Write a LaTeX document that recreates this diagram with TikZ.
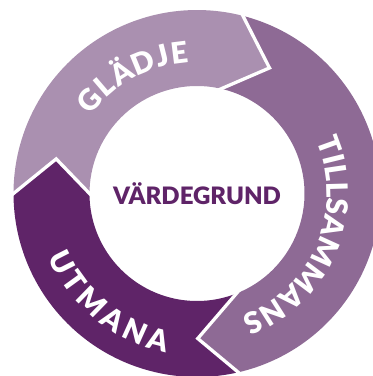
\documentclass[tikz,border=0pt]{standalone}
\usepackage{fontspec}
\setmainfont{Lato}
\newfontfamily\heavy{Lato Black}
\usetikzlibrary{decorations.text,calc}
\definecolor{glad}{HTML}{AA90B0}
\definecolor{till}{HTML}{8E6A95}
\definecolor{utm}{HTML}{5F2468}
\newcommand\ringfont{\heavy\fontsize{29.5pt}{30pt}\selectfont}
\begin{document}
\begin{tikzpicture}[x=1pt,y=1pt,
  sep/.style={draw=white, line width=3.3pt, line join=miter},
  ringtext/.style={decorate, decoration={text along path, text align=fit to path, text color=white, text={|\ringfont|#1}}}]
\useasboundingbox (0,0) rectangle (373,376);
\begin{scope}[shift={(197,182.5)}]
\def\Ro{183.5pt}\def\Ri{107.5pt}\def\Rm{145pt}
% chevron points
\coordinate (Aout) at (75.5:\Ro);
\coordinate (Atip) at (60:\Rm);
\coordinate (Ain)  at (77:\Ri);
\coordinate (Bout) at (-77:\Ro);
\coordinate (Btip) at (-89.7:\Rm);
\coordinate (Bin)  at (-68.5:\Ri);
\coordinate (Cout) at (180:\Ro);
\coordinate (Ctip) at (166.2:\Rm);
\coordinate (Cin)  at (180:\Ri);
% segments
\fill[glad] (Cout) arc[start angle=180, end angle=75.5, radius=\Ro] -- (Atip) -- (Ain)
  arc[start angle=77, end angle=180, radius=\Ri] -- (Ctip) -- cycle;
\fill[till] (Aout) arc[start angle=75.5, end angle=-77, radius=\Ro] -- (Btip) -- (Bin)
  arc[start angle=-68.5, end angle=77, radius=\Ri] -- (Atip) -- cycle;
\fill[utm] (Bout) arc[start angle=283, end angle=180, radius=\Ro] -- (Ctip) -- (Cin)
  arc[start angle=180, end angle=291.5, radius=\Ri] -- (Btip) -- cycle;
% separators
\draw[sep] ($(Atip)!1.1!(Aout)$) -- (Atip) -- ($(Atip)!1.2!(Ain)$);
\draw[sep] ($(Btip)!1.1!(Bout)$) -- (Btip) -- ($(Btip)!1.2!(Bin)$);
\draw[sep] ($(Ctip)!1.1!(Cout)$) -- (Ctip) -- ($(Ctip)!1.2!(Cin)$);
% ring labels
\path[ringtext=GLÄDJE] (143.7:131.3pt) arc[start angle=143.7, end angle=93.4, radius=131.3pt];
\path[ringtext=TILLSAMMANS] (23.8:130pt) arc[start angle=23.8, end angle=-67.8, radius=130pt];
\path[ringtext=UTMANA] (203.1:161.7pt) arc[start angle=203.1, end angle=258.9, radius=161.7pt];
% centre
\node[text=utm, font=\heavy\fontsize{24pt}{26pt}\selectfont] (vg) at (0,0) {VÄRDEGRUND};
\end{scope}
\end{tikzpicture}
\end{document}
